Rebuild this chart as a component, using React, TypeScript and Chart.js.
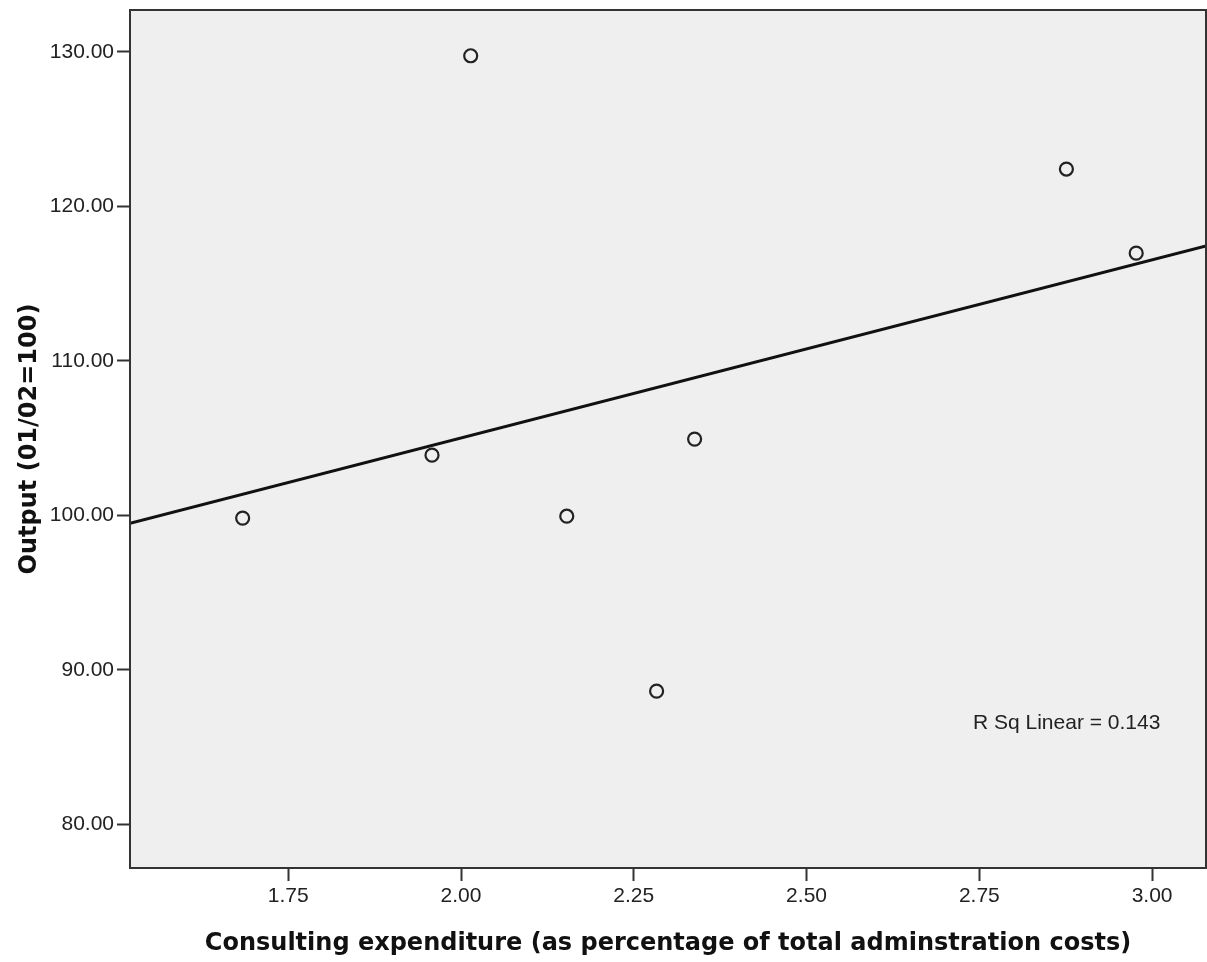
import React, { useEffect, useRef } from "react";
import { Chart, registerables } from "chart.js";

Chart.register(...registerables);

const xValues = [1.684, 1.958, 2.014, 2.153, 2.283, 2.338, 2.876, 2.977];
const yValues = [99.83, 103.9, 129.74, 99.95, 88.63, 104.94, 122.41, 116.97];
const xTicks = [1.75, 2.0, 2.25, 2.5, 2.75, 3.0];
const yTicks = [80, 90, 100, 110, 120, 130];
const xRange = [1.521, 3.078];
const yRange = [77.19, 132.7];
const xTitle = "Consulting expenditure (as percentage of total adminstration costs)";
const yTitle = "Output (01/02=100)";
const fitLabel = "R Sq Linear = 0.143";
const fitLabelPos = [3.012, 86.56];

function linearFit(xs: number[], ys: number[]) {
  const n = xs.length;
  const mx = xs.reduce((a, b) => a + b, 0) / n;
  const my = ys.reduce((a, b) => a + b, 0) / n;
  let sxy = 0;
  let sxx = 0;
  for (let i = 0; i < n; i++) {
    sxy += (xs[i] - mx) * (ys[i] - my);
    sxx += (xs[i] - mx) * (xs[i] - mx);
  }
  const slope = sxy / sxx;
  return { slope, intercept: my - slope * mx };
}

const boxPlugin = {
  id: "boxPlugin",
  beforeDraw(chart: any) {
    const { ctx, chartArea: a } = chart;
    ctx.save();
    ctx.fillStyle = "#efefef";
    ctx.fillRect(a.left, a.top, a.right - a.left, a.bottom - a.top);
    ctx.restore();
  },
  afterDraw(chart: any) {
    const { ctx, chartArea: a, scales } = chart;
    ctx.save();
    ctx.strokeStyle = "#333333";
    ctx.lineWidth = 2;
    ctx.strokeRect(a.left, a.top, a.right - a.left, a.bottom - a.top);
    ctx.fillStyle = "#222222";
    ctx.font = "21px 'Liberation Sans', Arial, sans-serif";
    ctx.textAlign = "right";
    ctx.textBaseline = "middle";
    ctx.fillText(
      fitLabel,
      scales.x.getPixelForValue(fitLabelPos[0]),
      scales.y.getPixelForValue(fitLabelPos[1])
    );
    ctx.restore();
  },
};

export default function App() {
  const ref = useRef<HTMLCanvasElement | null>(null);
  useEffect(() => {
    if (!ref.current) return;
    const fit = linearFit(xValues, yValues);
    const fitData = xRange.map((x) => ({ x, y: fit.intercept + fit.slope * x }));
    const tickFont = { family: "'Liberation Sans', Arial, sans-serif", size: 21 };
    const titleFont = { family: "'DejaVu Sans', Verdana, sans-serif", size: 24, weight: "bold" as const };
    const chart = new Chart(ref.current, {
      type: "scatter",
      data: {
        datasets: [
          {
            type: "line",
            data: fitData,
            borderColor: "#111111",
            borderWidth: 3,
            pointRadius: 0,
            fill: false,
          } as any,
          {
            data: xValues.map((x, i) => ({ x, y: yValues[i] })),
            pointRadius: 6.5,
            pointBorderWidth: 2.2,
            pointBorderColor: "#222222",
            pointBackgroundColor: "rgba(0,0,0,0)",
          },
        ],
      },
      options: {
        responsive: false,
        animation: false,
        layout: { autoPadding: false, padding: { top: 10, right: 1, left: 0, bottom: 0 } },
        plugins: { legend: { display: false }, tooltip: { enabled: false } },
        scales: {
          x: {
            type: "linear",
            min: xRange[0],
            max: xRange[1],
            afterBuildTicks: (s: any) => {
              s.ticks = xTicks.map((v) => ({ value: v }));
            },
            afterFit: (s: any) => {
              s.height = 94;
              s.paddingLeft = 0;
              s.paddingRight = 0;
            },
            ticks: {
              font: tickFont,
              color: "#222222",
              padding: 3,
              maxRotation: 0,
              callback: (v: any) => Number(v).toFixed(2),
            },
            grid: {
              drawOnChartArea: false,
              drawTicks: true,
              tickLength: 13,
              tickWidth: 2,
              tickColor: "#333333",
            },
            border: { display: false },
            title: {
              display: true,
              text: xTitle,
              font: titleFont,
              color: "#111111",
              padding: { top: 0, bottom: 4 },
            },
          },
          y: {
            type: "linear",
            min: yRange[0],
            max: yRange[1],
            afterBuildTicks: (s: any) => {
              s.ticks = yTicks.map((v) => ({ value: v }));
            },
            afterFit: (s: any) => {
              s.width = 130;
              s.paddingTop = 0;
              s.paddingBottom = 0;
            },
            ticks: {
              font: tickFont,
              color: "#222222",
              padding: 3,
              callback: (v: any) => Number(v).toFixed(2),
            },
            grid: {
              drawOnChartArea: false,
              drawTicks: true,
              tickLength: 13,
              tickWidth: 2,
              tickColor: "#333333",
            },
            border: { display: false },
            title: {
              display: true,
              text: yTitle,
              font: titleFont,
              color: "#111111",
              padding: { top: 15, bottom: 0 },
            },
          },
        },
      },
      plugins: [boxPlugin],
    });
    return () => chart.destroy();
  }, []);
  return (
    <div style={{ position: "absolute", left: 0, top: 0, width: 1207, height: 962, background: "#ffffff" }}>
      <canvas ref={ref} width={1207} height={962} />
    </div>
  );
}
